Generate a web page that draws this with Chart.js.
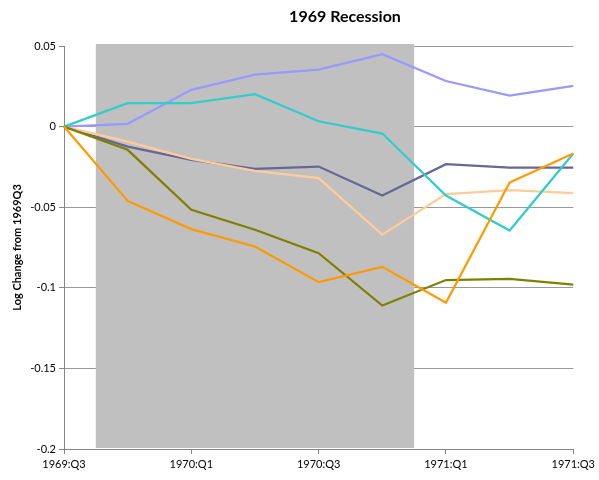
<!DOCTYPE html>
<html>
<head>
<meta charset="utf-8">
<title>1969 Recession</title>
<script src="https://cdn.jsdelivr.net/npm/chart.js@4.4.1/dist/chart.umd.min.js"></script>
<style>
    html, body { margin: 0; padding: 0; background: #ffffff; }
    #wrap { width: 599px; height: 480px; }
</style>
</head>
<body>
<div id="wrap"><canvas id="recessionChart" width="599" height="480"></canvas></div>
<script>
// Quarters from the 1969:Q3 peak
const quarters = ['1969:Q3', '1969:Q4', '1970:Q1', '1970:Q2', '1970:Q3', '1970:Q4', '1971:Q1', '1971:Q2', '1971:Q3'];

// Log change from 1969Q3, one array per series
const seriesLavender = [0, 0.0017, 0.0228, 0.0322, 0.0353, 0.0449, 0.0283, 0.0192, 0.0252];
const seriesTurquoise = [0, 0.0145, 0.0145, 0.0201, 0.0033, -0.0043, -0.0428, -0.0645, -0.0167];
const seriesSlate = [0, -0.0124, -0.0206, -0.0262, -0.0248, -0.0428, -0.0233, -0.0254, -0.0254];
const seriesPeach = [0, -0.0093, -0.0200, -0.0275, -0.0320, -0.0670, -0.0419, -0.0394, -0.0413];
const seriesOlive = [0, -0.0144, -0.0516, -0.0640, -0.0785, -0.1110, -0.0952, -0.0944, -0.0980];
const seriesOrange = [0, -0.0461, -0.0636, -0.0744, -0.0965, -0.0870, -0.1093, -0.0347, -0.0167];

const yTicks = [0.05, 0, -0.05, -0.1, -0.15, -0.2];

// recession band, in quarter index units
const recessionStart = 0.5;
const recessionEnd = 5.5;

const FONT = 'Lato, "Open Sans", sans-serif';

const recessionBand = {
    id: 'recessionBand',
    beforeDatasetsDraw(chart) {
        const { ctx, chartArea, scales } = chart;
        const x0 = scales.x.getPixelForValue(recessionStart);
        const x1 = scales.x.getPixelForValue(recessionEnd);
        ctx.save();
        ctx.fillStyle = '#c0c0c0';
        ctx.fillRect(x0, chartArea.top - 2, x1 - x0, chartArea.bottom - chartArea.top + 1);
        // the top gridline stops short of the band on its left side
        ctx.fillStyle = '#ffffff';
        ctx.fillRect(chartArea.left + 1, chartArea.top - 1, x0 - chartArea.left - 1, 2);
        ctx.restore();
    }
};

const chartTitle = {
    id: 'chartTitle',
    afterDraw(chart) {
        const ctx = chart.ctx;
        ctx.save();
        ctx.font = 'bold 16px ' + FONT;
        ctx.fillStyle = '#000';
        ctx.textAlign = 'center';
        ctx.textBaseline = 'middle';
        ctx.fillText('1969 Recession', 345, 17);
        ctx.restore();
    }
};

function makeSeries(data, color) {
    return {
        data: data,
        borderColor: color,
        backgroundColor: color,
        borderWidth: 2.25,
        pointRadius: 0,
        tension: 0,
        fill: false
    };
}

document.addEventListener('DOMContentLoaded', function() {
    const ctx = document.getElementById('recessionChart');
    new Chart(ctx, {
        type: 'line',
        data: {
            labels: quarters,
            datasets: [
                makeSeries(seriesOrange, '#ff9900'),
                makeSeries(seriesOlive, '#808000'),
                makeSeries(seriesTurquoise, '#33cccc'),
                makeSeries(seriesPeach, '#ffcc99'),
                makeSeries(seriesSlate, '#666699'),
                makeSeries(seriesLavender, '#9999ff')
            ]
        },
        options: {
            responsive: false,
            animation: false,
            layout: { padding: { top: 46, right: 25, left: 0, bottom: 0 } },
            plugins: {
                legend: { display: false },
                title: { display: false },
                tooltip: { enabled: false }
            },
            scales: {
                x: {
                    type: 'category',
                    offset: false,
                    afterFit: scale => { scale.height = 31; },
                    grid: {
                        drawOnChartArea: false,
                        drawTicks: true,
                        tickLength: 5,
                        color: c => (c.index % 2 === 0 ? '#868686' : 'rgba(0,0,0,0)')
                    },
                    border: { color: '#868686', width: 1 },
                    ticks: {
                        autoSkip: false,
                        maxRotation: 0,
                        padding: 4,
                        color: '#000',
                        font: { family: FONT, size: 11 },
                        callback: (v, i) => (i % 2 === 0 ? quarters[i] : '')
                    }
                },
                y: {
                    min: -0.2,
                    max: 0.05,
                    afterFit: scale => { scale.width = 64; },
                    afterBuildTicks: scale => {
                        scale.ticks = yTicks.map(v => ({ value: v }));
                    },
                    grid: {
                        color: '#999999',
                        lineWidth: 1,
                        tickLength: 5,
                        tickColor: '#868686'
                    },
                    border: { color: '#868686', width: 1 },
                    ticks: {
                        padding: 3,
                        color: '#000',
                        font: { family: FONT, size: 11 },
                        callback: v => String(Math.round(v * 100) / 100)
                    },
                    title: {
                        display: true,
                        text: 'Log Change from 1969Q3',
                        color: '#000',
                        font: { family: FONT, size: 11, weight: 'bold' },
                        padding: { top: 11, bottom: 0 }
                    }
                }
            }
        },
        plugins: [recessionBand, chartTitle]
    });
});
</script>
</body>
</html>
